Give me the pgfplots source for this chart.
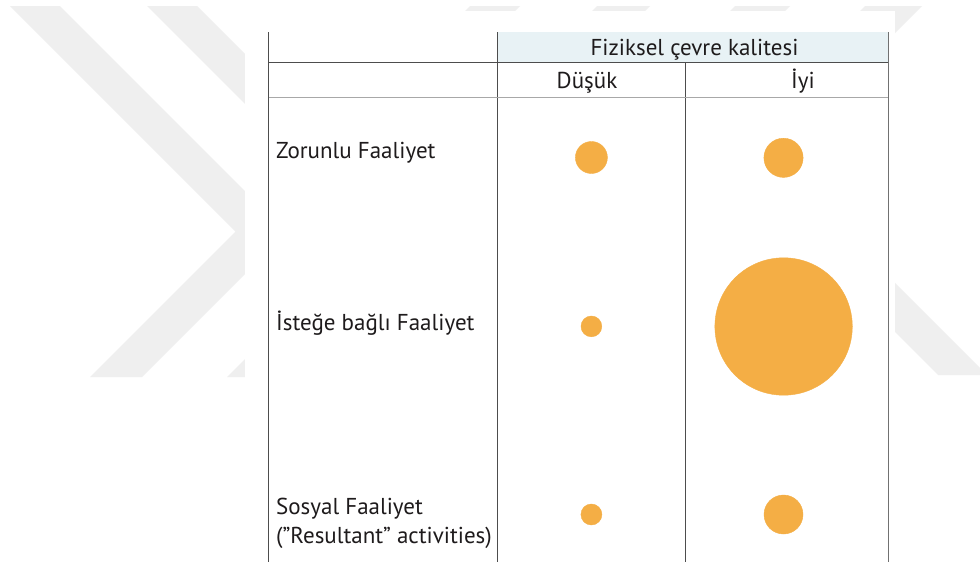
\documentclass[border=0pt]{standalone}
\usepackage{fontspec}
\setmainfont{PT Sans}
\usepackage{pgfplots}
\usepackage{pgfplotstable}
\pgfplotsset{compat=1.18}
\definecolor{wm}{HTML}{EFEFEF}
\definecolor{hdr}{HTML}{E8F2F5}
\definecolor{bub}{HTML}{F4AE45}
\definecolor{txt}{HTML}{1E1B1C}
\definecolor{ln}{HTML}{4D4D4D}
\definecolor{lnl}{HTML}{A8A8A8}
% bubble centres (px) and radii (px)
\pgfplotstableread{
x y r
591.4 157.5 16.0
783.5 157.8 19.6
591.4 326.4 10.4
783.6 326.5 68.7
591.4 514.5 10.5
783.5 514.5 19.5
}\bubbles
\begin{document}
\begin{tikzpicture}
\begin{axis}[
  width=980pt, height=562pt, scale only axis,
  xmin=0, xmax=980, ymin=0, ymax=562, y dir=reverse,
  hide axis, clip=false,
]
% background
\fill[white] (axis cs:0,0) rectangle (axis cs:980,562);
% watermark chevrons
\fill[wm] (axis cs:10,6) -- (axis cs:60,6) -- (axis cs:286.5,232.5) -- (axis cs:142,377) -- (axis cs:90,377) -- (axis cs:235.5,231.5) -- cycle;
\fill[wm] (axis cs:147,6) -- (axis cs:197,6) -- (axis cs:423.5,232.5) -- (axis cs:279,377) -- (axis cs:227,377) -- (axis cs:372.5,231.5) -- cycle;
\fill[wm] (axis cs:865,6) -- (axis cs:922,6) -- (axis cs:770,158) -- (axis cs:980,368) -- (axis cs:980,375) -- (axis cs:938,375) -- (axis cs:717,154) -- cycle;
\fill[wm] (axis cs:470,6) -- (axis cs:520,6) -- (axis cs:515,11) -- (axis cs:465,11) -- cycle;
\fill[wm] (axis cs:597,6) -- (axis cs:650,6) -- (axis cs:645,11) -- (axis cs:592,11) -- cycle;
\fill[wm] (axis cs:735,6) -- (axis cs:790,6) -- (axis cs:785,11) -- (axis cs:730,11) -- cycle;
% page
\fill[white] (axis cs:245,11) rectangle (axis cs:895,562);
% header band
\fill[hdr] (axis cs:497,32) rectangle (axis cs:888,62);
% table lines
\draw[ln, line width=0.9pt] (axis cs:268.5,32) -- (axis cs:268.5,562);
\draw[ln, line width=0.9pt] (axis cs:497,32) -- (axis cs:497,562);
\draw[ln, line width=0.9pt] (axis cs:685,62) -- (axis cs:685,562);
\draw[ln!80, line width=0.9pt] (axis cs:888,32) -- (axis cs:888,562);
\draw[ln, line width=0.9pt] (axis cs:268.5,62) -- (axis cs:888,62);
\draw[lnl, line width=0.9pt] (axis cs:268.5,97) -- (axis cs:888,97);
% texts
\begin{scope}[every node/.style={font=\fontsize{23}{27}\selectfont, text=txt, inner sep=0pt}]
\node[anchor=base] at (axis cs:694.5,55) {Fiziksel çevre kalitesi};
\node[anchor=base] at (axis cs:587,88.5) {Düşük};
\node[anchor=base] at (axis cs:803,88.5) {İyi};
\node[anchor=base west] at (axis cs:276,158.5) {Zorunlu Faaliyet};
\node[anchor=base west] at (axis cs:276,330) {İsteğe bağlı Faaliyet};
\node[anchor=base west] at (axis cs:276,514.5) {Sosyal Faaliyet};
\node[anchor=base west] at (axis cs:276,543) {(”Resultant” activities)};
\end{scope}
% bubbles
\addplot[scatter, only marks, mark=*, draw=none,
  scatter/use mapped color={draw=bub, fill=bub},
  visualization depends on={\thisrow{r} \as \rad},
  scatter/@pre marker code/.append style={/tikz/mark size=\rad}]
  table[x=x, y=y] {\bubbles};
\end{axis}
\end{tikzpicture}
\end{document}
